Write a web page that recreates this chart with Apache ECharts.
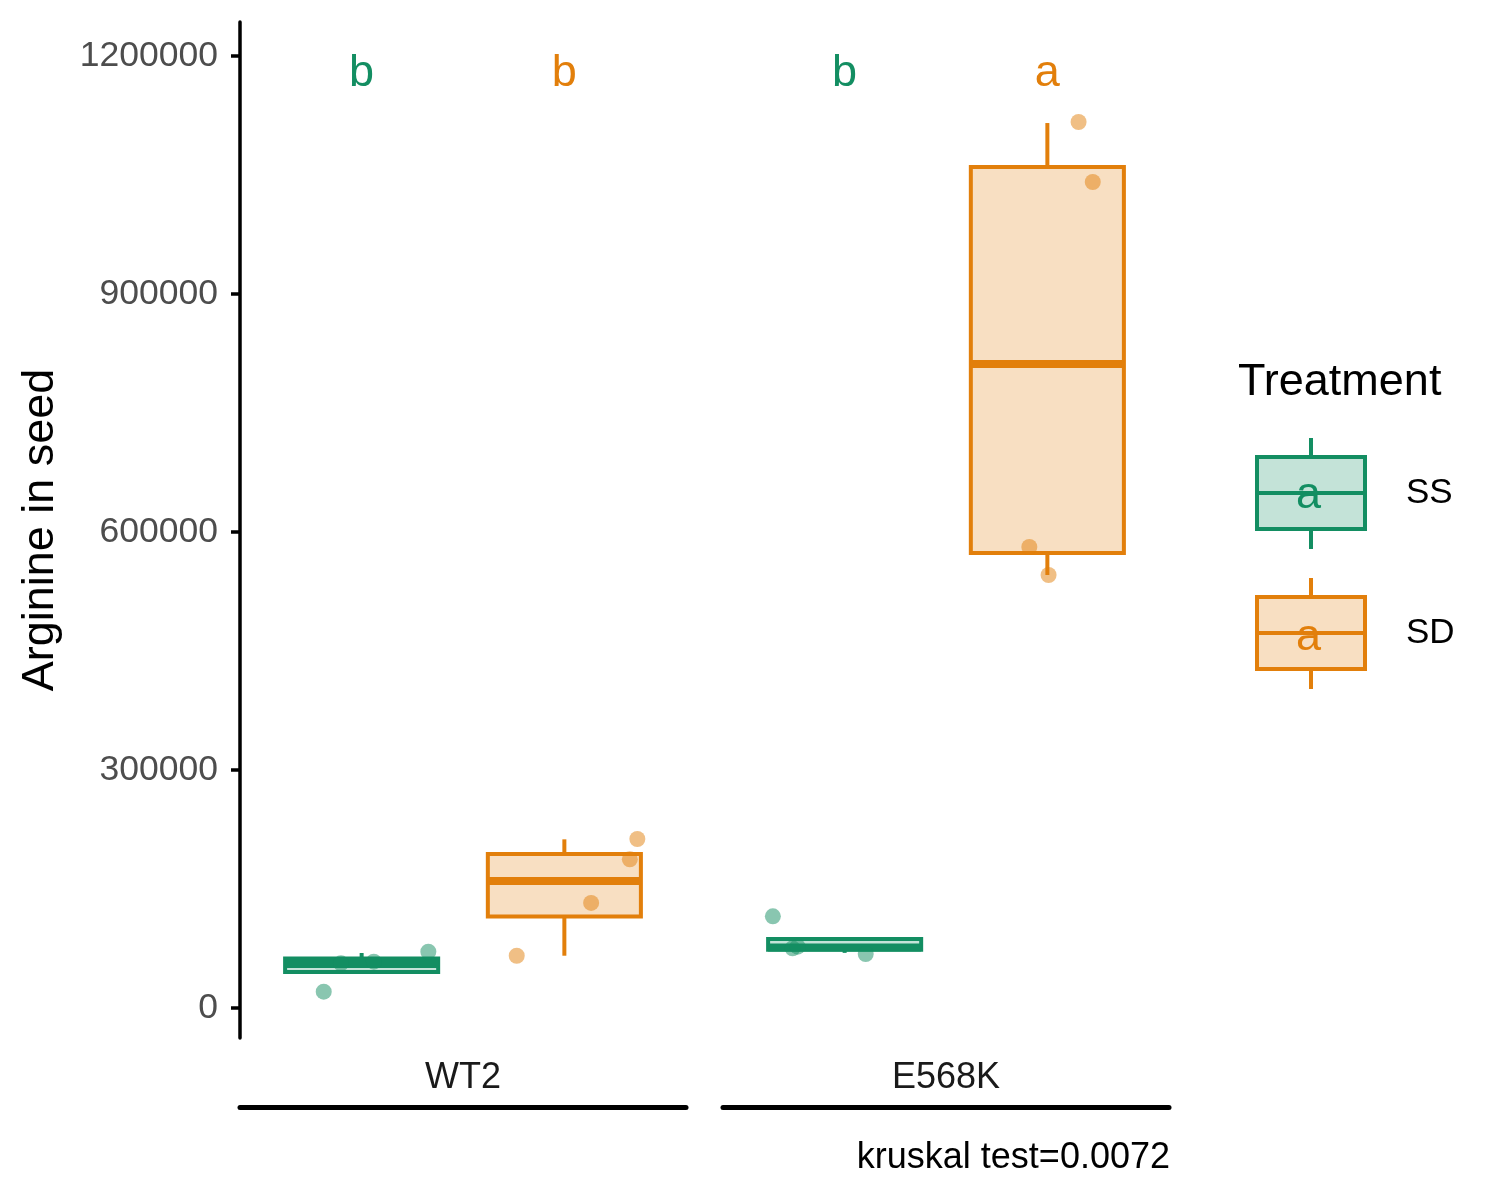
<!DOCTYPE html>
<html>
<head>
<meta charset="utf-8">
<title>Arginine in seed</title>
<script src="https://cdn.jsdelivr.net/npm/echarts@6/dist/echarts.min.js"></script>
<style>
  html, body { margin: 0; padding: 0; background: #fff; }
  #main { width: 1500px; height: 1200px; }
</style>
</head>
<body>
<div id="main"></div>
<script>
// ---- data ----
var groups = ["WT2", "E568K"];
var treatments = ["SS", "SD"];
var treatX = [1, 2];           // dodge position of SS / SD inside each panel

// box stats per group: [lower whisker, Q1, median, Q3, upper whisker]
var ssBox = [
  [45400, 45400, 55500, 62400, 69300],
  [69500, 73500, 76300, 86900, 86900]
];
var sdBox = [
  [65900, 115300, 160100, 194100, 212600],
  [545800, 573500, 811800, 1060100, 1115500]
];

// jittered points per group: [x position, value]
var ssPoints = [
  [[0.813, 20550], [0.898, 56350], [1.060, 58360], [1.329, 70970]],
  [[0.646, 115600], [0.743, 75250], [0.768, 77300], [1.104, 68070]]
];
var sdPoints = [
  [[2.360, 213000], [2.323, 187400], [2.132, 132400], [1.765, 65900]],
  [[2.154, 1116800], [2.224, 1041200], [1.911, 581100], [2.006, 545800]]
];

// significance letters per group
var ssLetters = ["b", "b"];
var sdLetters = ["b", "a"];
var letterY = 1185000;

var yTicks = [0, 300000, 600000, 900000, 1200000];
var yMin = -37815;
var yMax = 1242853;

var testLabel = "kruskal test=0.0072";

// ---- styles ----
var green = "#138E62";
var orange = "#E27F0B";
var greenFill = "rgba(19,142,98,0.25)";
var orangeFill = "rgba(226,127,11,0.25)";
var greenPt = "rgba(19,142,98,0.5)";
var orangePt = "rgba(226,127,11,0.5)";
var FONT = "'Liberation Sans', Arial, Helvetica, sans-serif";
var BOX_W = 0.755;
var LW = 4;

function boxRenderer(stroke, fill) {
  return function (params, api) {
    var x = api.value(0);
    var half = api.size([BOX_W, 0])[0] / 2;
    var lo = api.coord([x, api.value(1)]);
    var q1 = api.coord([x, api.value(2)]);
    var md = api.coord([x, api.value(3)]);
    var q3 = api.coord([x, api.value(4)]);
    var hi = api.coord([x, api.value(5)]);
    var st = { stroke: stroke, lineWidth: LW };
    return {
      type: "group",
      children: [
        { type: "line", shape: { x1: hi[0], y1: hi[1], x2: q3[0], y2: q3[1] }, style: st },
        { type: "line", shape: { x1: q1[0], y1: q1[1], x2: lo[0], y2: lo[1] }, style: st },
        {
          type: "rect",
          shape: { x: q3[0] - half, y: q3[1], width: half * 2, height: q1[1] - q3[1] },
          style: { fill: fill, stroke: stroke, lineWidth: LW }
        },
        {
          type: "line",
          shape: { x1: md[0] - half, y1: md[1], x2: md[0] + half, y2: md[1] },
          style: { stroke: stroke, lineWidth: LW * 2 }
        }
      ]
    };
  };
}

var grids = [
  { left: 240, top: 22, width: 446, height: 1016 },
  { left: 723, top: 22, width: 446, height: 1016 }
];

var xAxes = groups.map(function (g, i) {
  return {
    type: "value",
    gridIndex: i,
    min: 0.4,
    max: 2.6,
    position: "bottom",
    offset: 69,
    axisLine: { show: true, onZero: false, lineStyle: { color: "#000", width: 5 } },
    axisTick: { show: false },
    axisLabel: { show: false },
    splitLine: { show: false },
    name: g,
    nameLocation: "middle",
    nameGap: -47,
    nameTextStyle: { fontSize: 36, color: "#1a1a1a", fontFamily: FONT }
  };
});

var yAxes = groups.map(function (g, i) {
  var first = i === 0;
  return {
    type: "value",
    gridIndex: i,
    min: yMin,
    max: yMax,
    axisLine: { show: first, onZero: false, lineStyle: { color: "#000", width: 3.5 } },
    axisTick: {
      show: first,
      length: 9,
      customValues: yTicks,
      lineStyle: { color: "#000", width: 3.5 }
    },
    axisLabel: {
      show: first,
      customValues: yTicks,
      margin: 22,
      fontSize: 35.5,
      color: "#4d4d4d",
      fontFamily: FONT,
      padding: [6, 0, 0, 0],
      formatter: function (v) { return String(v); }
    },
    splitLine: { show: false },
    name: first ? "Arginine in seed" : "",
    nameLocation: "middle",
    nameGap: 177,
    nameTextStyle: { fontSize: 45, color: "#000", fontFamily: FONT }
  };
});

var series = [];
groups.forEach(function (g, i) {
  series.push({
    name: "SS",
    type: "custom",
    xAxisIndex: i,
    yAxisIndex: i,
    renderItem: boxRenderer(green, greenFill),
    encode: { x: 0, y: [1, 2, 3, 4, 5] },
    data: [[treatX[0]].concat(ssBox[i])],
    z: 2,
    silent: true
  });
  series.push({
    name: "SD",
    type: "custom",
    xAxisIndex: i,
    yAxisIndex: i,
    renderItem: boxRenderer(orange, orangeFill),
    encode: { x: 0, y: [1, 2, 3, 4, 5] },
    data: [[treatX[1]].concat(sdBox[i])],
    z: 2,
    silent: true
  });
  series.push({
    type: "scatter",
    xAxisIndex: i,
    yAxisIndex: i,
    data: ssPoints[i],
    symbolSize: 16,
    itemStyle: { color: greenPt, opacity: 1 },
    z: 3,
    silent: true
  });
  series.push({
    type: "scatter",
    xAxisIndex: i,
    yAxisIndex: i,
    data: sdPoints[i],
    symbolSize: 16,
    itemStyle: { color: orangePt, opacity: 1 },
    z: 3,
    silent: true
  });
  series.push({
    type: "scatter",
    xAxisIndex: i,
    yAxisIndex: i,
    symbolSize: 0,
    itemStyle: { opacity: 1 },
    z: 4,
    silent: true,
    data: [
      { value: [treatX[0], letterY, ssLetters[i]], label: { color: green } },
      { value: [treatX[1], letterY, sdLetters[i]], label: { color: orange } }
    ],
    label: {
      show: true,
      position: "inside",
      offset: [0, 6],
      fontSize: 45,
      fontFamily: FONT,
      formatter: function (p) { return p.value[2]; }
    }
  });
});

var legendIcon = "path://M54,0L54,19M0,19L108,19L108,91L0,91ZM0,55L108,55M54,91L54,111";

var option = {
  backgroundColor: "#fff",
  animation: false,
  textStyle: { fontFamily: FONT },
  title: [
    {
      text: "Treatment",
      left: 1238,
      top: 360,
      padding: 0,
      textStyle: { fontSize: 45, fontWeight: "normal", color: "#000", fontFamily: FONT }
    },
    {
      text: testLabel,
      right: 330,
      top: 1140,
      padding: 0,
      textStyle: { fontSize: 36, fontWeight: "normal", color: "#000", fontFamily: FONT }
    }
  ],
  legend: {
    orient: "vertical",
    left: 1255,
    top: 436,
    padding: 0,
    itemWidth: 108,
    itemHeight: 111,
    itemGap: 25,
    selectedMode: false,
    textStyle: { fontSize: 35, color: "#000", fontFamily: FONT, padding: [0, 0, 0, 36] },
    data: [
      {
        name: treatments[0],
        icon: legendIcon,
        itemStyle: { color: greenFill, borderColor: green, borderWidth: LW }
      },
      {
        name: treatments[1],
        icon: legendIcon,
        itemStyle: { color: orangeFill, borderColor: orange, borderWidth: LW }
      }
    ]
  },
  graphic: [
    {
      type: "text",
      left: 1308 - 12,
      top: 492 - 19,
      style: { text: "a", fill: green, fontSize: 45, fontFamily: FONT },
      z: 100
    },
    {
      type: "text",
      left: 1308 - 12,
      top: 634 - 19,
      style: { text: "a", fill: orange, fontSize: 45, fontFamily: FONT },
      z: 100
    }
  ],
  grid: grids,
  xAxis: xAxes,
  yAxis: yAxes,
  series: series
};

var chart = echarts.init(document.getElementById("main"));
chart.setOption(option);
</script>
</body>
</html>
